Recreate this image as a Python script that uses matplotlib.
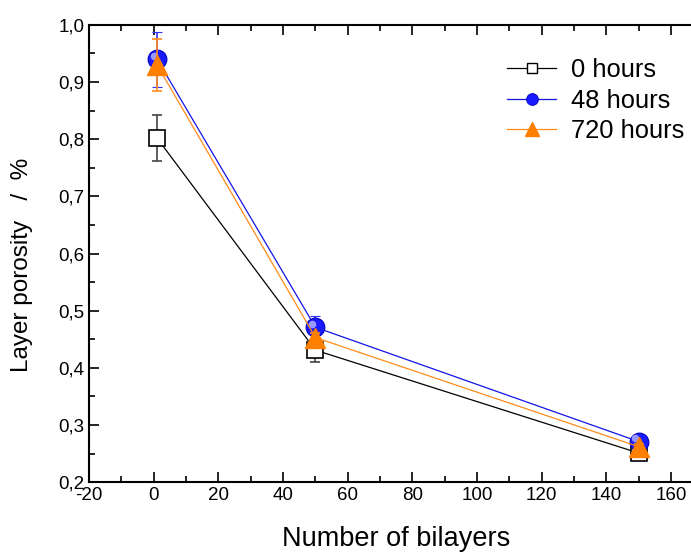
import matplotlib.pyplot as plt
import matplotlib.transforms as mtransforms
from matplotlib.lines import Line2D
from matplotlib.ticker import MultipleLocator, FuncFormatter

plt.rcParams['font.family'] = ['Liberation Sans', 'DejaVu Sans']
plt.rcParams['axes.unicode_minus'] = False

bilayers = [1, 50, 150]
por_0h = [0.802, 0.431, 0.251]
err_0h = [0.040, 0.020, 0.005]
por_48h = [0.940, 0.471, 0.271]
err_48h = [0.048, 0.020, 0.005]
por_720h = [0.930, 0.453, 0.262]
err_720h = [0.045, 0.008, 0.005]

c_black = 'black'
c_blue = '#1414e6'
c_orange = '#ff7f00'

fig = plt.figure(figsize=(6.91, 5.53), dpi=100)
ax = fig.add_axes([0.129, 0.128, 0.889, 0.827])

ax.errorbar(bilayers, por_0h, yerr=err_0h, color=c_black, lw=0.9,
            marker='s', ms=11.5, mfc='white', mec='black', mew=1.2,
            ecolor='#444444', elinewidth=1.2, capsize=3.5, capthick=1.2,
            zorder=2)
ax.errorbar(bilayers, por_48h, yerr=err_48h, color=c_blue, lw=0.9,
            marker='o', ms=13.5, mfc='#1a1aff', mec='#0000c0', mew=0.8,
            ecolor='#3030ff', elinewidth=1.2, capsize=3.5, capthick=1.2,
            zorder=3)
# soft highlight on the blue spheres
hl = mtransforms.offset_copy(ax.transData, fig=fig, x=-2.5, y=2.5, units='points')
ax.plot(bilayers, por_48h, ls='none', marker='o', ms=5.5, mfc='#b8b8ff',
        mec='none', alpha=0.8, transform=hl, zorder=3.5)
ax.errorbar(bilayers, por_720h, yerr=err_720h, color='#ff8c1a', lw=0.9,
            marker='^', ms=15, mfc=c_orange, mec=c_orange,
            ecolor='#ff8c1a', elinewidth=1.2, capsize=3.5, capthick=1.2,
            zorder=4)

ax.set_xlim(-20, 170)
ax.set_ylim(0.2, 1.0)
ax.xaxis.set_major_locator(MultipleLocator(20))
ax.xaxis.set_minor_locator(MultipleLocator(10))
ax.yaxis.set_major_locator(MultipleLocator(0.1))
ax.yaxis.set_minor_locator(MultipleLocator(0.05))
ax.yaxis.set_major_formatter(FuncFormatter(lambda v, p: f'{v:.1f}'.replace('.', ',')))
ax.tick_params(which='both', direction='in', top=True, right=True, width=1.2,
               labelsize=13.5)
ax.tick_params(which='major', length=7)
ax.tick_params(which='minor', length=4)
for s in ax.spines.values():
    s.set_linewidth(1.5)

ax.set_xlabel('Number of bilayers', fontsize=19.5, labelpad=16)
ax.set_ylabel('Layer porosity   /  %', fontsize=17.5)
ax.yaxis.set_label_coords(-0.091, 0.475)

handles = [
    Line2D([], [], color=c_black, lw=0.9, marker='s', ms=6.5, mfc='white',
           mec='black', mew=1.0),
    Line2D([], [], color=c_blue, lw=0.9, marker='o', ms=8.5, mfc='#1a1aff',
           mec='#0000c0', mew=0.6),
    Line2D([], [], color='#ff8c1a', lw=0.9, marker='^', ms=10, mfc=c_orange,
           mec=c_orange),
]
labels = ['0 hours', '48 hours', '720 hours']
ax.legend(handles, labels, loc='upper left', bbox_to_anchor=(0.660, 0.955),
          frameon=False, fontsize=18.4, borderpad=0, handlelength=1.9,
          handletextpad=0.6, labelspacing=0.25)

fig.savefig('out.png', dpi=100)
